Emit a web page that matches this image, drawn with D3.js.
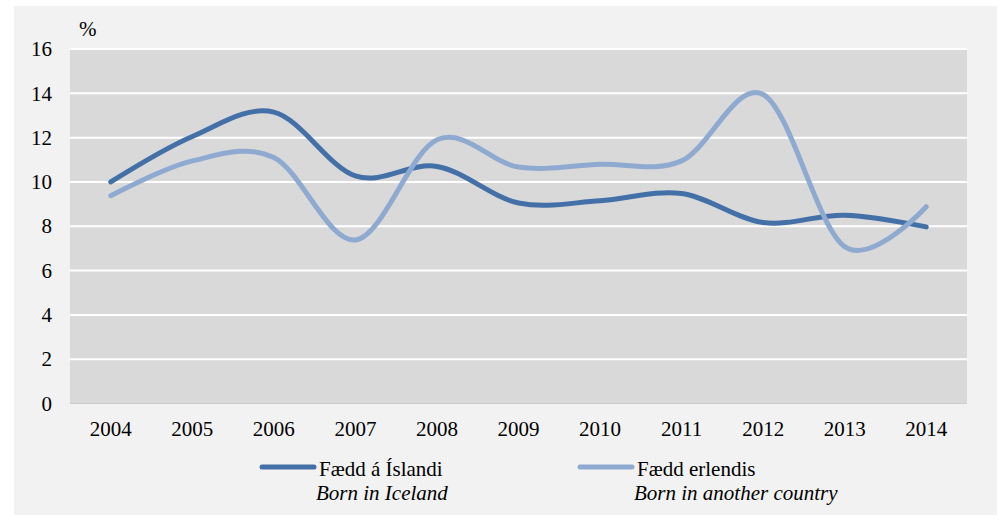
<!DOCTYPE html>
<html>
<head>
<meta charset="utf-8">
<script src="https://cdn.jsdelivr.net/npm/d3@7"></script>
<style>
  body { margin: 0; background: #fff; }
</style>
</head>
<body>
<div id="chart"></div>
<script>
const years = ["2004", "2005", "2006", "2007", "2008", "2009", "2010", "2011", "2012", "2013", "2014"];
const bornIceland = [10.0, 12.05, 13.15, 10.27, 10.7, 9.05, 9.15, 9.48, 8.17, 8.5, 7.97];
const bornAbroad = [9.38, 10.95, 11.1, 7.38, 11.9, 10.67, 10.8, 10.95, 13.95, 7.08, 8.88];
const yTicks = [0, 2, 4, 6, 8, 10, 12, 14, 16];

const W = 1002, H = 520;
const plot = { left: 70, right: 967, top: 49, bottom: 403.5 };
const FONT = "Liberation Serif";
const FS = "21px";

const svg = d3.select("#chart").append("svg")
    .attr("width", W)
    .attr("height", H);

// outer panel
svg.append("rect")
   .attr("x", 14).attr("y", 6)
   .attr("width", 983).attr("height", 509)
   .attr("fill", "#f2f2f2");

// plot area
svg.append("rect")
   .attr("x", plot.left).attr("y", plot.top)
   .attr("width", plot.right - plot.left).attr("height", plot.bottom - plot.top)
   .attr("fill", "#d9d9d9");

const x = d3.scaleBand()
            .domain(years)
            .range([plot.left, plot.right]);

const y = d3.scaleLinear()
            .domain([0, 16])
            .range([plot.bottom, plot.top]);

// gridlines
svg.append("g")
   .selectAll("line")
   .data(yTicks.filter(d => d > 0))
   .enter()
   .append("line")
   .attr("x1", plot.left).attr("x2", plot.right)
   .attr("y1", d => y(d)).attr("y2", d => y(d))
   .attr("stroke", "#fff")
   .attr("stroke-width", 2);

// base line
svg.append("line")
   .attr("x1", plot.left).attr("x2", plot.right)
   .attr("y1", y(0)).attr("y2", y(0))
   .attr("stroke", "#cdcdcd")
   .attr("stroke-width", 1);

// y axis labels
const yAxis = svg.append("g")
   .attr("transform", `translate(${plot.left},0)`)
   .call(d3.axisLeft(y).tickValues(yTicks).tickSize(0).tickPadding(18));
yAxis.select(".domain").remove();
yAxis.selectAll("text")
     .attr("fill", "#000")
     .style("font-family", FONT)
     .style("font-size", FS);

// x axis labels
const xAxis = svg.append("g")
   .attr("transform", `translate(0,${plot.bottom})`)
   .call(d3.axisBottom(x).tickSize(0).tickPadding(18));
xAxis.select(".domain").remove();
xAxis.selectAll("text")
     .attr("fill", "#000")
     .style("font-family", FONT)
     .style("font-size", FS);

svg.append("text")
   .attr("x", 79).attr("y", 36)
   .style("font-family", FONT)
   .style("font-size", FS)
   .text("%");

// lines
const line = d3.line()
               .x((d, i) => x(years[i]) + x.bandwidth() / 2)
               .y(d => y(d))
               .curve(d3.curveCardinal.tension(0));

const series = [
  { name: "Fædd á Íslandi", en: "Born in Iceland", values: bornIceland, color: "#4470a8", lx: 262 },
  { name: "Fædd erlendis", en: "Born in another country", values: bornAbroad, color: "#8faad1", lx: 580 }
];

series.forEach(s => {
  svg.append("path")
     .datum(s.values)
     .attr("d", line)
     .attr("fill", "none")
     .attr("stroke", s.color)
     .attr("stroke-width", 5)
     .attr("stroke-linecap", "round");
});

// legend
const legend = svg.append("g");
series.forEach(s => {
  legend.append("line")
        .attr("x1", s.lx).attr("x2", s.lx + 52)
        .attr("y1", 467).attr("y2", 467)
        .attr("stroke", s.color)
        .attr("stroke-width", 5)
        .attr("stroke-linecap", "round");
  legend.append("text")
        .attr("x", s.lx + 57).attr("y", 475.5)
        .style("font-family", FONT)
        .style("font-size", FS)
        .text(s.name);
  legend.append("text")
        .attr("x", s.lx + 54).attr("y", 500)
        .style("font-family", FONT)
        .style("font-size", FS)
        .style("font-style", "italic")
        .text(s.en);
});
</script>
</body>
</html>
